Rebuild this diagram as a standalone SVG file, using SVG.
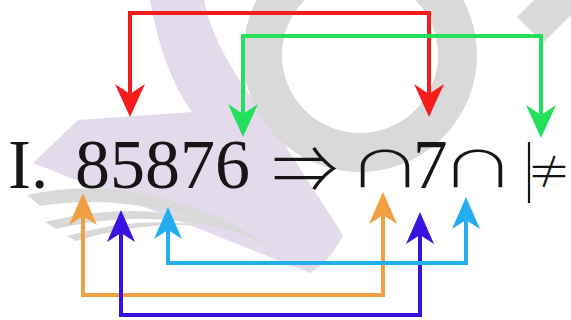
<svg xmlns="http://www.w3.org/2000/svg" width="571" height="320" viewBox="0 0 571 320">
<style>
.t{font-family:"Liberation Serif","DejaVu Serif",serif;fill:#161616}
.m{font-family:"Noto Sans CJK JP","DejaVu Sans",sans-serif;font-weight:200;fill:#161616;text-anchor:middle}
.c{fill:none;stroke-width:4;stroke-linejoin:miter}
.wm-l{fill:#e3dbec}
.wm-g{fill:#d9d9d9}
</style>
<defs>
<marker id="mr" markerUnits="userSpaceOnUse" orient="auto-start-reverse" overflow="visible" refX="0" refY="0" markerWidth="1" markerHeight="1"><path d="M20,0 L-13,-15 L-3,0 L-13,15 Z" fill="#f51c1c"/></marker>
<marker id="mg" markerUnits="userSpaceOnUse" orient="auto-start-reverse" overflow="visible" refX="0" refY="0" markerWidth="1" markerHeight="1"><path d="M20,0 L-13,-15 L-3,0 L-13,15 Z" fill="#22e05a"/></marker>
<marker id="mo" markerUnits="userSpaceOnUse" orient="auto-start-reverse" overflow="visible" refX="0" refY="0" markerWidth="1" markerHeight="1"><path d="M20,0 L-12,-14 L-3,0 L-12,14 Z" fill="#f0a040"/></marker>
<marker id="mb" markerUnits="userSpaceOnUse" orient="auto-start-reverse" overflow="visible" refX="0" refY="0" markerWidth="1" markerHeight="1"><path d="M20,0 L-12,-14 L-3,0 L-12,14 Z" fill="#3a12e0"/></marker>
<marker id="mc" markerUnits="userSpaceOnUse" orient="auto-start-reverse" overflow="visible" refX="0" refY="0" markerWidth="1" markerHeight="1"><path d="M20,0 L-12,-14 L-3,0 L-12,14 Z" fill="#22aef0"/></marker>
</defs>
<rect width="571" height="320" fill="#ffffff"/>
<g id="watermark">
<path class="wm-l" d="M150,0 C158,45 172,85 192,112 L78,120 L33,163 L310,273 Q330,262 343,235 L272,125 C238,82 212,40 204,0 Z"/>
<circle cx="360" cy="55" r="97.5" fill="none" stroke="#d9d9d9" stroke-width="39"/>
<path class="wm-g" d="M534,0 L571,0 L571,15 L543,43 L517,17 Z"/>
<path class="wm-g" d="M27,195 Q150,168 277,250 Q150,188 40,206 Z"/>
<path class="wm-g" d="M45,222 Q150,195 245,234 Q150,206 56,229 Z"/>
<path class="wm-g" d="M67,236 Q140,215 205,226 Q140,221 76,241 Z"/>
</g>
<g id="connectors">
<path class="c" stroke="#f51c1c" d="M130,97 V13 H429 V97" marker-start="url(#mr)" marker-end="url(#mr)"/>
<path class="c" stroke="#22e05a" d="M243,117 V36 H541 V118" marker-start="url(#mg)" marker-end="url(#mg)"/>
<path class="c" stroke="#f0a040" d="M83,213 V295 H383 V212" marker-start="url(#mo)" marker-end="url(#mo)"/>
<path class="c" stroke="#3a12e0" d="M121,230 V315 H420 V232" marker-start="url(#mb)" marker-end="url(#mb)"/>
<path class="c" stroke="#22aef0" d="M168,227 V263 H466 V217" marker-start="url(#mc)" marker-end="url(#mc)"/>
</g>
<g id="left-expr">
<text class="t" x="8" y="188" font-size="69">I.</text>
<text class="t" x="75" y="188" font-size="69" textLength="175" lengthAdjust="spacingAndGlyphs">85876</text>
</g>
<g id="implies">
<text class="m" x="305" y="193" font-size="66">⇒</text>
</g>
<g id="right-expr">
<text class="m" transform="translate(385,187) scale(1.5,1)" x="0" y="0" font-size="50">∩</text>
<text class="t" x="413" y="188" font-size="69">7</text>
<text class="m" transform="translate(478,187) scale(1.5,1)" x="0" y="0" font-size="50">∩</text>
<line x1="529" y1="142" x2="529" y2="203" stroke="#161616" stroke-width="2.2"/>
<text class="m" x="549" y="188" font-size="44">≠</text>
</g>
</svg>
